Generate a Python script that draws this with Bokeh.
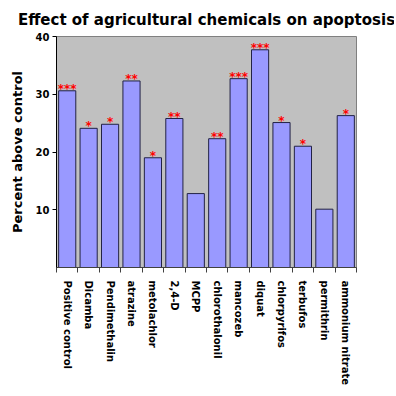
from bokeh.plotting import figure
from bokeh.models import ColumnDataSource, Range1d, LinearAxis, FixedTicker
from bokeh.embed import file_html
from bokeh.resources import INLINE
from bokeh.core.properties import value

chemicals = ["Positive control", "Dicamba", "Pendimethalin", "atrazine", "metolachlor",
             "2,4-D", "MCPP", "chlorothalonil", "mancozeb", "diquat", "chlorpyrifos",
             "terbufos", "permithrin", "ammonium nitrate"]
percent = [30.6, 24.1, 24.8, 32.3, 19.0, 25.8, 12.8, 22.3, 32.7, 37.7, 25.1, 21.0, 10.1, 26.3]
stars = ["***", "*", "*", "**", "*", "**", "", "**", "***", "***", "*", "*", "", "*"]
y_ticks = [10, 20, 30, 40]

n = len(chemicals)
centers = [i + 0.5 for i in range(n)]
src = ColumnDataSource(dict(x=centers, y=percent, name=chemicals))
sig = [i for i, s in enumerate(stars) if s]
star_src = ColumnDataSource(dict(x=[centers[i] for i in sig], y=[percent[i] for i in sig],
                                 s=[stars[i] for i in sig]))

p = figure(x_range=Range1d(0, n), y_range=Range1d(0, 40), width=394, height=388,
           output_backend="svg", toolbar_location=None, x_axis_location=None,
           min_border_left=56, min_border_right=38, min_border_top=35, min_border_bottom=116,
           title="Effect of agricultural chemicals on apoptosis")
p.title.text_font = "DejaVu Sans"
p.title.text_font_style = "bold"
p.title.text_font_size = "15px"
p.title.text_color = "black"
p.title.align = "center"
p.title.offset = 12
p.title.standoff = 16

p.background_fill_color = "#c0c0c0"
p.border_fill_color = "white"
p.outline_line_color = "#808080"
p.grid.visible = False

p.vbar(x="x", top="y", width=0.8, source=src, fill_color="#9999ff",
       line_color="#222244", line_width=1)
p.text(x="x", y="y", text="s", source=star_src, text_color="red", text_align="center",
       text_baseline="bottom", text_font_size="12px", text_font_style="bold",
       text_font=value("DejaVu Sans"), y_offset=5)

# y axis
ya = p.yaxis[0]
ya.ticker = FixedTicker(ticks=y_ticks)
ya.axis_label = "Percent above control"
ya.axis_label_text_font = "DejaVu Sans"
ya.axis_label_text_font_style = "bold"
ya.axis_label_text_font_size = "13px"
ya.axis_label_text_color = "black"
ya.major_label_text_font = "DejaVu Sans"
ya.major_label_text_font_style = "bold"
ya.major_label_text_font_size = "10px"
ya.major_label_text_color = "black"
ya.axis_line_color = "black"
ya.major_tick_line_color = "black"
ya.major_tick_out = 4
ya.major_tick_in = 0
ya.minor_tick_line_color = None
ya.major_label_standoff = 3
ya.axis_label_standoff = 8

# x tick marks between categories (no labels)
edge_axis = LinearAxis(ticker=FixedTicker(ticks=list(range(n + 1))),
                       major_label_text_color=None, major_label_text_font_size="1px",
                       major_tick_out=5, major_tick_in=0,
                       minor_tick_line_color=None, axis_line_color="#404040",
                       major_tick_line_color="#404040", major_label_standoff=0)
p.add_layout(edge_axis, "below")

# category labels at bar centres
label_axis = LinearAxis(ticker=FixedTicker(ticks=centers),
                        major_label_overrides={c: name for c, name in zip(centers, chemicals)},
                        axis_line_color=None, major_tick_line_color=None,
                        minor_tick_line_color=None,
                        major_label_orientation="vertical",
                        major_label_text_font="DejaVu Sans",
                        major_label_text_font_style="bold",
                        major_label_text_font_size="10px",
                        major_label_text_color="black",
                        major_label_standoff=2)
p.add_layout(label_axis, "below")

open("out.html", "w").write(file_html(p, INLINE))
